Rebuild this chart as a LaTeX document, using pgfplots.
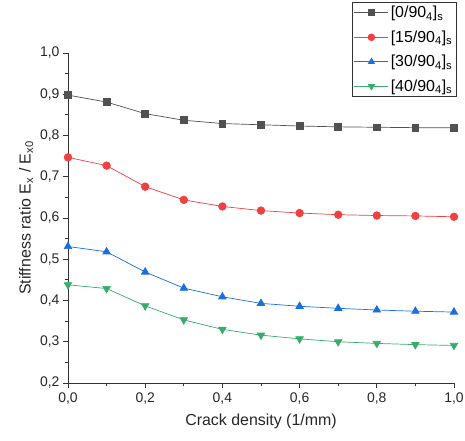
\documentclass[border=0pt]{standalone}
\usepackage{pgfplots}
\pgfplotsset{compat=1.18}
\usepackage{fontspec}
\setmainfont{Liberation Sans}
\definecolor{oblack}{HTML}{515151}
\definecolor{ored}{HTML}{F14040}
\definecolor{oblue}{HTML}{1A6FDF}
\definecolor{ogreen}{HTML}{37AD6B}
\begin{document}
\begin{tikzpicture}
\begin{axis}[
  scale only axis,
  width=386bp, height=330bp,
  xmin=0, xmax=1, ymin=0.2, ymax=1.0,
  axis x line*=bottom, axis y line*=left,
  axis line style={-, line width=0.9pt, black!80},
  xtick={0,0.2,...,1.0}, ytick={0.2,0.3,...,1.0},
  minor x tick num=1, minor y tick num=1,
  tick align=outside,
  major tick length=5bp, minor tick length=3bp,
  tick style={line width=0.8pt, black!80},
  /pgf/number format/assume math mode=true,
  /pgf/number format/.cd, fixed, fixed zerofill, precision=1, use comma, /pgfplots/.cd,
  ticklabel style={font=\fontsize{14}{16}\selectfont, text=black!85},
  xticklabel style={yshift=-1bp},
  xlabel={Crack density (1/mm)},
  ylabel={Stiffness ratio E\textsubscript{x} / E\textsubscript{x0}},
  label style={font=\fontsize{16}{18}\selectfont, text=black!85},
  xlabel style={yshift=-3bp},
  ylabel style={yshift=0bp},
  legend style={at={(rel axis cs:1.007,1.155)}, anchor=north east,
    font=\fontsize{16}{18}\selectfont, draw=black!80, line width=0.8pt,
    row sep=7.5bp, inner xsep=2bp, inner ysep=2bp, cells={anchor=west}},
  legend image code/.code={
    \draw[#1, mark=none] (0cm,0cm) -- (1.2cm,0cm);
    \draw[#1, draw opacity=0] plot coordinates {(0.6cm,0cm)};
  },
  every axis plot/.append style={line width=0.7pt, mark size=3.8bp},
  clip=false,
]
\addplot[color=oblack, mark=square*, mark size=3.4bp] coordinates {
(0,0.898) (0.1,0.881) (0.2,0.853) (0.3,0.837) (0.4,0.829) (0.5,0.826)
(0.6,0.823) (0.7,0.821) (0.8,0.820) (0.9,0.819) (1.0,0.819)};
\addlegendentry{[0/90\textsubscript{4}]\textsubscript{s}}
\addplot[color=ored, mark=*] coordinates {
(0,0.747) (0.1,0.727) (0.2,0.676) (0.3,0.644) (0.4,0.628) (0.5,0.618)
(0.6,0.612) (0.7,0.608) (0.8,0.606) (0.9,0.605) (1.0,0.603)};
\addlegendentry{[15/90\textsubscript{4}]\textsubscript{s}}
\addplot[color=oblue, mark=triangle*, mark size=4.3bp] coordinates {
(0,0.531) (0.1,0.518) (0.2,0.469) (0.3,0.430) (0.4,0.409) (0.5,0.393)
(0.6,0.386) (0.7,0.381) (0.8,0.377) (0.9,0.374) (1.0,0.372)};
\addlegendentry{[30/90\textsubscript{4}]\textsubscript{s}}
\addplot[color=ogreen, mark=triangle*, mark options={rotate=180}, mark size=4.3bp] coordinates {
(0,0.438) (0.1,0.429) (0.2,0.387) (0.3,0.353) (0.4,0.330) (0.5,0.316)
(0.6,0.307) (0.7,0.300) (0.8,0.296) (0.9,0.293) (1.0,0.291)};
\addlegendentry{[40/90\textsubscript{4}]\textsubscript{s}}
\end{axis}
\pgfresetboundingbox
\path[use as bounding box] (-68bp,-58bp) rectangle (397bp,383bp);
\end{tikzpicture}
\end{document}
